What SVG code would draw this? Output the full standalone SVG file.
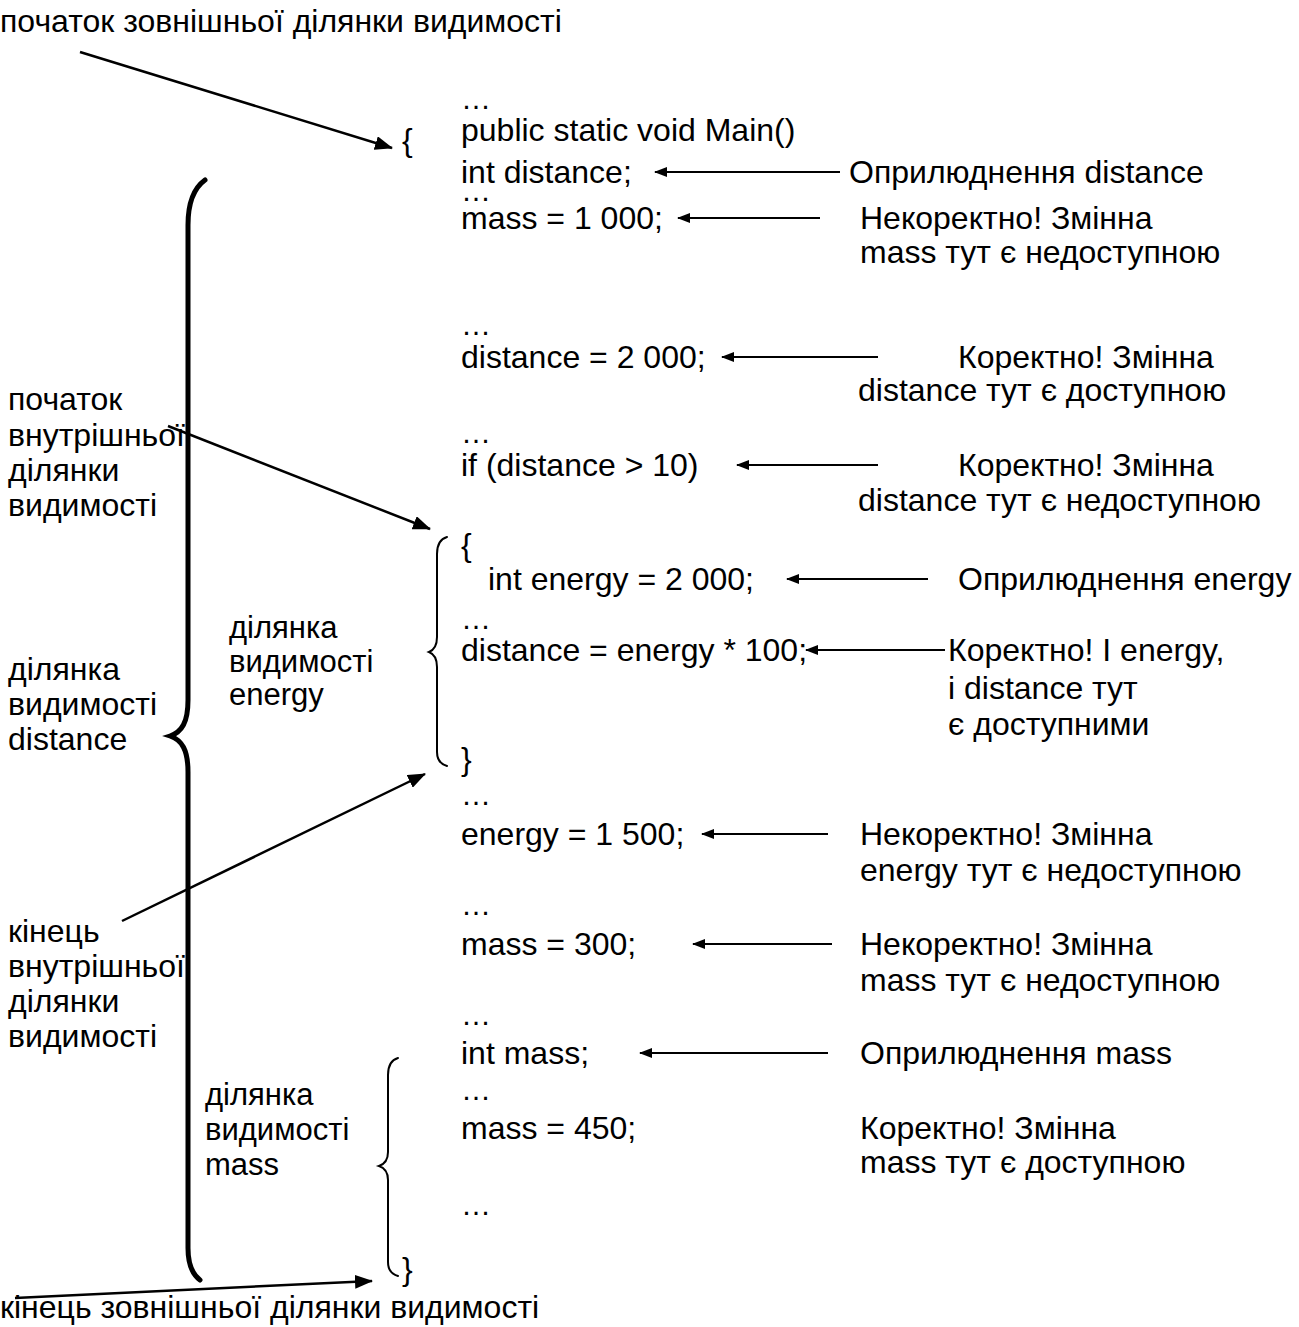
<svg xmlns="http://www.w3.org/2000/svg" width="1299" height="1327" viewBox="0 0 1299 1327">
  <style>
    text { font-family: "Liberation Sans", Arial, sans-serif; font-size: 32px; fill: #000; }
    .lbl { font-size: 31px; }
    .dots { font-size: 30px; }
    .conn line { stroke: #000; }
    .diag { stroke-width: 2.5; marker-end: url(#headBig); }
    .horz { stroke-width: 2; marker-end: url(#headSmall); }
    .brace { fill: none; stroke: #000; stroke-linecap: round; }
  </style>
  <defs>
    <marker id="headBig" markerUnits="userSpaceOnUse" markerWidth="18" markerHeight="14" refX="17" refY="7" orient="auto">
      <path d="M0,0 L18,7 L0,14 z" fill="#000"/>
    </marker>
    <marker id="headSmall" markerUnits="userSpaceOnUse" markerWidth="13" markerHeight="10" refX="12" refY="5" orient="auto">
      <path d="M0,0 L13,5 L0,10 z" fill="#000"/>
    </marker>
  </defs>

  <!-- scope labels on the left -->
  <g id="outer-start-label"><text x="0" y="32">початок зовнішньої ділянки видимості</text></g>
  <g id="outer-end-label"><text x="0" y="1318">кінець зовнішньої ділянки видимості</text></g>
  <g id="inner-start-label">
    <text x="8" y="410">початок</text>
    <text x="8" y="446">внутрішньої</text>
    <text x="8" y="481">ділянки</text>
    <text x="8" y="516">видимості</text>
  </g>
  <g id="distance-scope-label">
    <text x="8" y="680">ділянка</text>
    <text x="8" y="715">видимості</text>
    <text x="8" y="750">distance</text>
  </g>
  <g id="inner-end-label">
    <text x="8" y="942">кінець</text>
    <text x="8" y="977">внутрішньої</text>
    <text x="8" y="1012">ділянки</text>
    <text x="8" y="1047">видимості</text>
  </g>
  <g id="energy-scope-label">
    <text class="lbl" x="229" y="638">ділянка</text>
    <text class="lbl" x="229" y="672">видимості</text>
    <text class="lbl" x="229" y="705">energy</text>
  </g>
  <g id="mass-scope-label">
    <text class="lbl" x="205" y="1105">ділянка</text>
    <text class="lbl" x="205" y="1140">видимості</text>
    <text class="lbl" x="205" y="1175">mass</text>
  </g>

  <!-- scope braces -->
  <g id="brace-distance">
    <path class="brace" stroke-width="5" d="M205,180 C194,188 188,202 188,225 L188,700 C188,722 182,732 170,736 C182,740 188,750 188,772 L188,1248 C188,1264 192,1274 200,1280"/>
  </g>
  <g id="brace-energy">
    <path class="brace" stroke-width="2" d="M447,537 C440,539 437,544 437,554 L437,637 C437,646 434,650 429,652 C434,654 437,658 437,667 L437,752 C437,760 440,764 447,766"/>
  </g>
  <g id="brace-mass">
    <path class="brace" stroke-width="2" d="M398,1058 C391,1060 388,1065 388,1075 L388,1152 C388,1160 385,1164 379,1166 C385,1168 388,1172 388,1180 L388,1262 C388,1270 391,1274 398,1276"/>
  </g>

  <!-- code listing -->
  <g id="code">
    <text class="dots" x="461" y="109">…</text>
    <text x="461" y="141">public static void Main()</text>
    <text x="402" y="151">{</text>
    <text x="461" y="183">int distance;</text>
    <text class="dots" x="461" y="201">…</text>
    <text x="461" y="229">mass = 1 000;</text>
    <text class="dots" x="461" y="335">…</text>
    <text x="461" y="368">distance = 2 000;</text>
    <text class="dots" x="461" y="443">…</text>
    <text x="461" y="476">if (distance &gt; 10)</text>
    <text x="461" y="556">{</text>
    <text x="488" y="590">int energy = 2 000;</text>
    <text class="dots" x="461" y="629">…</text>
    <text x="461" y="661">distance = energy * 100;</text>
    <text x="461" y="770">}</text>
    <text class="dots" x="461" y="805">…</text>
    <text x="461" y="845">energy = 1 500;</text>
    <text class="dots" x="461" y="915">…</text>
    <text x="461" y="955">mass = 300;</text>
    <text class="dots" x="461" y="1025">…</text>
    <text x="461" y="1064">int mass;</text>
    <text class="dots" x="461" y="1100">…</text>
    <text x="461" y="1139">mass = 450;</text>
    <text class="dots" x="461" y="1215">…</text>
    <text x="402" y="1280">}</text>
  </g>

  <!-- comments on the right -->
  <g id="note-decl-distance"><text x="849" y="183">Оприлюднення distance</text></g>
  <g id="note-mass-1">
    <text x="860" y="229">Некоректно! Змінна</text>
    <text x="860" y="263">mass тут є недоступною</text>
  </g>
  <g id="note-distance-1">
    <text x="958" y="368">Коректно! Змінна</text>
    <text x="858" y="401">distance тут є доступною</text>
  </g>
  <g id="note-distance-2">
    <text x="958" y="476">Коректно! Змінна</text>
    <text x="858" y="511">distance тут є недоступною</text>
  </g>
  <g id="note-decl-energy"><text x="958" y="590">Оприлюднення energy</text></g>
  <g id="note-both">
    <text x="948" y="661">Коректно! І energy,</text>
    <text x="948" y="699">і distance тут</text>
    <text x="948" y="735">є доступними</text>
  </g>
  <g id="note-energy">
    <text x="860" y="845">Некоректно! Змінна</text>
    <text x="860" y="881">energy тут є недоступною</text>
  </g>
  <g id="note-mass-2">
    <text x="860" y="955">Некоректно! Змінна</text>
    <text x="860" y="991">mass тут є недоступною</text>
  </g>
  <g id="note-decl-mass"><text x="860" y="1064">Оприлюднення mass</text></g>
  <g id="note-mass-3">
    <text x="860" y="1139">Коректно! Змінна</text>
    <text x="860" y="1173">mass тут є доступною</text>
  </g>

  <!-- connectors -->
  <g id="connectors" class="conn">
    <line class="diag" x1="80" y1="52" x2="392" y2="148"/>
    <line class="diag" x1="168" y1="426" x2="430" y2="529"/>
    <line class="diag" x1="122" y1="921" x2="425" y2="774"/>
    <line class="diag" x1="15" y1="1298" x2="372" y2="1281"/>
    <line class="horz" x1="840" y1="172" x2="655" y2="172"/>
    <line class="horz" x1="820" y1="218" x2="678" y2="218"/>
    <line class="horz" x1="878" y1="357" x2="722" y2="357"/>
    <line class="horz" x1="878" y1="465" x2="737" y2="465"/>
    <line class="horz" x1="928" y1="579" x2="787" y2="579"/>
    <line class="horz" x1="945" y1="650" x2="806" y2="650"/>
    <line class="horz" x1="828" y1="834" x2="702" y2="834"/>
    <line class="horz" x1="832" y1="944" x2="693" y2="944"/>
    <line class="horz" x1="828" y1="1053" x2="640" y2="1053"/>
  </g>
</svg>
